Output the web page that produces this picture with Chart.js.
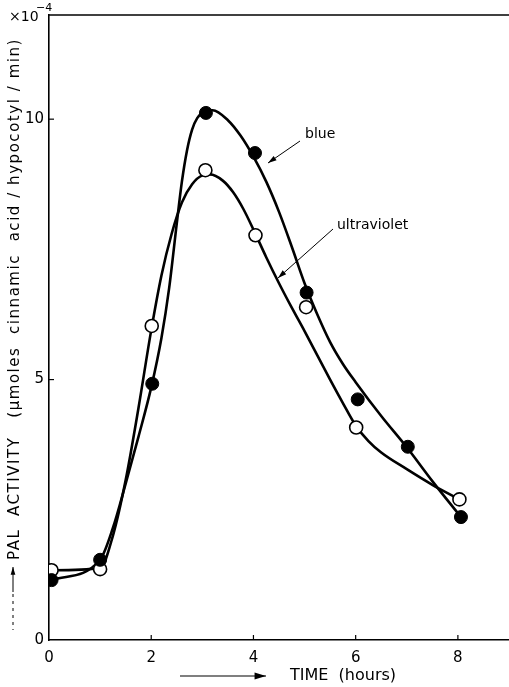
<!DOCTYPE html>
<html lang="en">
<head>
    <meta charset="UTF-8">
    <title>PAL activity vs time</title>
    <script src="https://cdn.jsdelivr.net/npm/chart.js@4"></script>
    <style>
        body { margin: 0; background: #fff; }
    </style>
</head>
<body>
    <canvas id="palChart" width="509" height="687"></canvas>
    <script>
        // measured points (hours, activity x10^-4)
        const blueHours = [0.05, 1.0, 2.02, 3.07, 4.03, 5.04, 6.04, 7.02, 8.06];
        const blueValues = [1.15, 1.54, 4.92, 10.12, 9.35, 6.67, 4.62, 3.71, 2.36];
        const uvHours = [0.05, 1.0, 2.01, 3.06, 4.04, 5.03, 6.01, 8.03];
        const uvValues = [1.34, 1.36, 6.03, 9.02, 7.77, 6.39, 4.08, 2.70];

        // hand-drawn fitted curves
        const blueCurveHours = [0.05, 1.0, 1.25, 1.5, 1.75, 2.0, 2.2, 2.35, 2.5, 2.6, 2.7, 2.8, 2.9, 3.05, 3.2, 3.5, 3.75, 4.0, 4.25, 4.5, 4.75, 5.0, 5.25, 5.5, 5.75, 6.0, 6.5, 7.0, 7.5, 8.06];
        const blueCurveValues = [1.15, 1.54, 2.15, 3.0, 3.9, 4.85, 5.8, 6.75, 8.0, 8.8, 9.4, 9.8, 10.02, 10.15, 10.17, 9.98, 9.68, 9.28, 8.8, 8.22, 7.55, 6.85, 6.25, 5.72, 5.3, 4.95, 4.3, 3.7, 3.05, 2.36];
        const uvCurveHours = [0.05, 1.0, 1.25, 1.5, 1.75, 2.0, 2.2, 2.4, 2.6, 2.8, 3.0, 3.15, 3.4, 3.6, 3.8, 4.0, 4.25, 4.5, 4.75, 5.0, 5.5, 5.75, 6.0, 6.25, 6.5, 7.0, 7.5, 8.03];
        const uvCurveValues = [1.34, 1.38, 2.0, 3.07, 4.45, 5.95, 7.0, 7.8, 8.4, 8.75, 8.92, 8.94, 8.82, 8.6, 8.28, 7.88, 7.35, 6.85, 6.38, 5.93, 5.0, 4.55, 4.12, 3.82, 3.6, 3.28, 2.98, 2.70];

        const xTicks = [0, 2, 4, 6, 8];
        const yTicks = [0, 5, 10];

        const FONT = '"DejaVu Sans", sans-serif';
        const zip = (xs, ys) => xs.map((x, i) => ({ x: x, y: ys[i] }));

        function arrow(ctx, x1, y1, x2, y2, head) {
            ctx.beginPath();
            ctx.moveTo(x1, y1);
            ctx.lineTo(x2, y2);
            ctx.stroke();
            const a = Math.atan2(y2 - y1, x2 - x1);
            ctx.beginPath();
            ctx.moveTo(x2, y2);
            ctx.lineTo(x2 - head * Math.cos(a - 0.3), y2 - head * Math.sin(a - 0.3));
            ctx.lineTo(x2 - head * Math.cos(a + 0.3), y2 - head * Math.sin(a + 0.3));
            ctx.closePath();
            ctx.fill();
        }

        const decor = {
            id: 'decor',
            afterDraw(chart) {
                const { ctx, chartArea: a, scales: { x, y } } = chart;
                ctx.save();
                ctx.strokeStyle = '#000';
                ctx.fillStyle = '#000';

                // top frame line
                ctx.lineWidth = 1.6;
                ctx.beginPath();
                ctx.moveTo(a.left, a.top);
                ctx.lineTo(a.right, a.top);
                ctx.stroke();

                // inward tick marks
                ctx.lineWidth = 1.2;
                xTicks.forEach(v => {
                    if (v === 0) return;
                    const px = x.getPixelForValue(v);
                    ctx.beginPath();
                    ctx.moveTo(px, a.bottom);
                    ctx.lineTo(px, a.bottom - 5);
                    ctx.stroke();
                });
                yTicks.forEach(v => {
                    if (v === 0) return;
                    const py = y.getPixelForValue(v);
                    ctx.beginPath();
                    ctx.moveTo(a.left, py);
                    ctx.lineTo(a.left + 5, py);
                    ctx.stroke();
                });

                // x10^-4 multiplier
                ctx.textBaseline = 'alphabetic';
                ctx.textAlign = 'left';
                ctx.font = '14px ' + FONT;
                ctx.fillText('\u00d710', 9, 21);
                ctx.font = '11px ' + FONT;
                ctx.fillText('\u22124', 36, 11);

                // y axis title, rotated
                const title = 'PAL  ACTIVITY   (\u00b5moles  cinnamic  acid / hypocotyl / min)';
                ctx.save();
                ctx.translate(19, 560);
                ctx.rotate(-Math.PI / 2);
                ctx.font = '15px ' + FONT;
                const w = ctx.measureText(title).width;
                ctx.letterSpacing = Math.max(0, (522 - w) / title.length).toFixed(2) + 'px';
                ctx.fillText(title, 0, 0);
                ctx.restore();

                // y arrow with dashed tail
                ctx.lineWidth = 1;
                arrow(ctx, 13, 592, 13, 567, 8);
                ctx.setLineDash([3, 4]);
                ctx.beginPath();
                ctx.moveTo(13, 594);
                ctx.lineTo(13, 630);
                ctx.stroke();
                ctx.setLineDash([]);

                // x axis title with arrow
                ctx.font = '16px ' + FONT;
                ctx.textBaseline = 'middle';
                ctx.fillText('TIME  (hours)', 290, 676);
                ctx.lineWidth = 1.2;
                arrow(ctx, 180, 676, 266, 676, 12);

                // curve labels
                ctx.font = '14px ' + FONT;
                ctx.fillText('blue', 305, 134);
                ctx.fillText('ultraviolet', 337, 225);
                ctx.lineWidth = 1;
                arrow(ctx, 300, 141, 268, 163, 9);
                arrow(ctx, 333, 229, 278, 278, 9);

                ctx.restore();
            }
        };

        function renderChart() {
            const ctx = document.getElementById('palChart').getContext('2d');
            new Chart(ctx, {
                type: 'scatter',
                data: {
                    datasets: [
                        {
                            label: 'blue',
                            data: zip(blueHours, blueValues),
                            pointRadius: 6.5,
                            pointBackgroundColor: '#000',
                            pointBorderColor: '#000',
                            pointBorderWidth: 1,
                            showLine: false,
                            order: 0
                        },
                        {
                            label: 'ultraviolet',
                            data: zip(uvHours, uvValues),
                            pointRadius: 6.5,
                            pointBackgroundColor: '#fff',
                            pointBorderColor: '#000',
                            pointBorderWidth: 1.6,
                            showLine: false,
                            order: 0
                        },
                        {
                            label: 'blue curve',
                            data: zip(blueCurveHours, blueCurveValues),
                            showLine: true,
                            borderColor: '#000',
                            borderWidth: 2.6,
                            pointRadius: 0,
                            cubicInterpolationMode: 'monotone',
                            order: 1
                        },
                        {
                            label: 'ultraviolet curve',
                            data: zip(uvCurveHours, uvCurveValues),
                            showLine: true,
                            borderColor: '#000',
                            borderWidth: 2.6,
                            pointRadius: 0,
                            cubicInterpolationMode: 'monotone',
                            order: 1
                        }
                    ]
                },
                options: {
                    responsive: false,
                    animation: false,
                    layout: { autoPadding: false, padding: { top: 15, left: 0, right: 0, bottom: 0 } },
                    scales: {
                        x: {
                            type: 'linear',
                            min: 0,
                            max: 9,
                            afterBuildTicks: s => { s.ticks = xTicks.map(v => ({ value: v })); },
                            afterFit: s => { s.height = 47; },
                            grid: { display: false, drawTicks: false },
                            border: { display: true, color: '#000', width: 1.6 },
                            ticks: {
                                color: '#000',
                                padding: 9,
                                maxRotation: 0,
                                font: { family: FONT, size: 15 }
                            }
                        },
                        y: {
                            min: 0,
                            max: 12,
                            afterBuildTicks: s => { s.ticks = yTicks.map(v => ({ value: v })); },
                            afterFit: s => { s.width = 49; },
                            grid: { display: false, drawTicks: false },
                            border: { display: true, color: '#000', width: 1.6 },
                            ticks: {
                                color: '#000',
                                padding: 5,
                                font: { family: FONT, size: 15 }
                            }
                        }
                    },
                    plugins: {
                        legend: { display: false },
                        tooltip: { enabled: false }
                    }
                },
                plugins: [decor]
            });
        }

        window.onload = renderChart;
    </script>
</body>
</html>
